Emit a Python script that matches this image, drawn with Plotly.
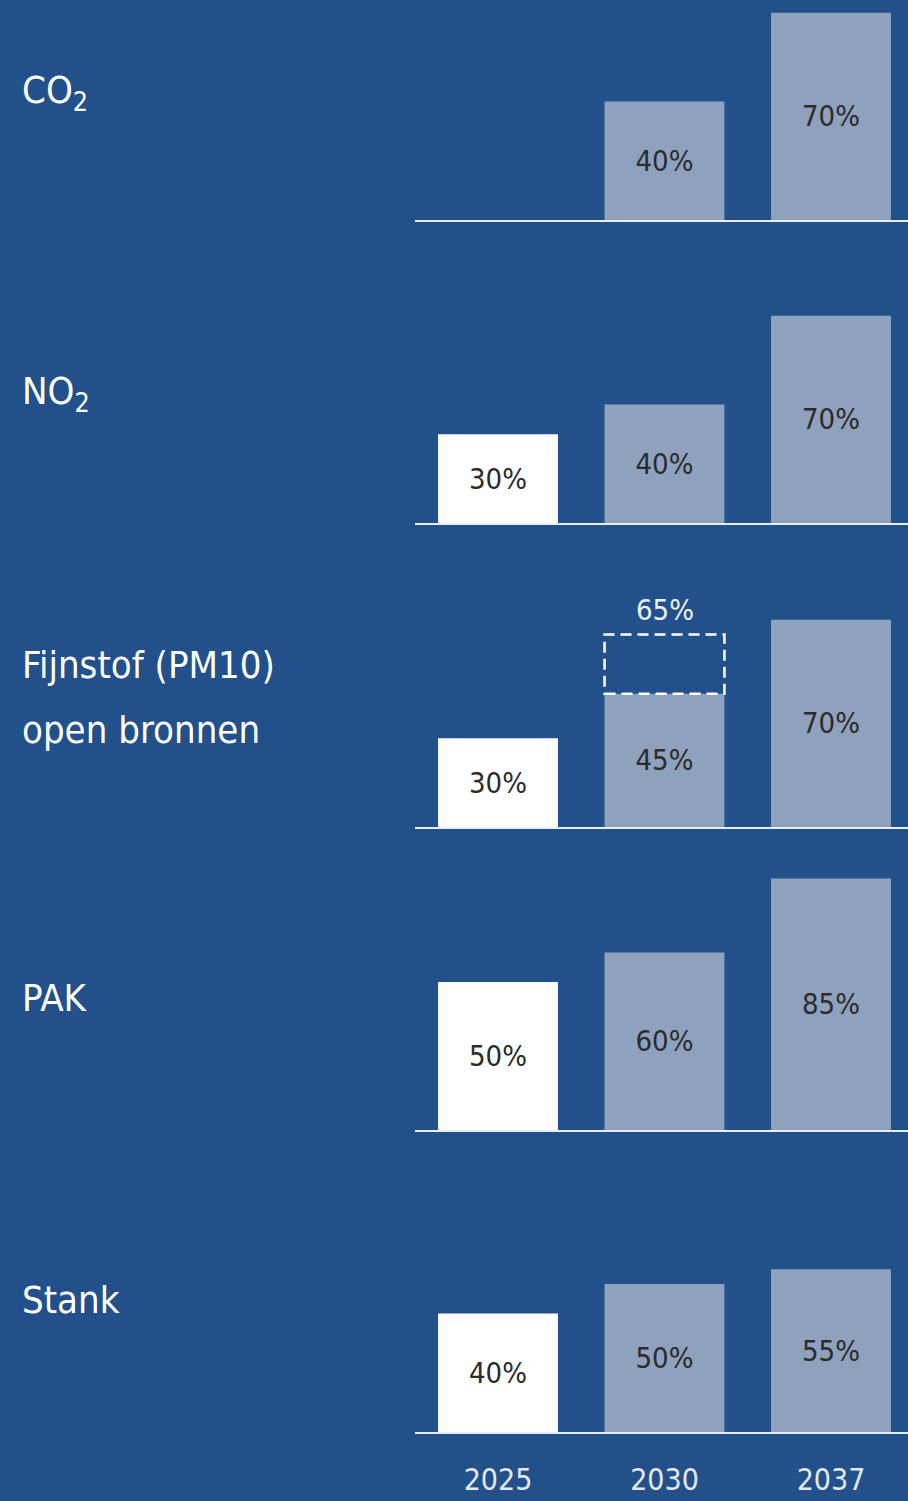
import plotly.graph_objects as go

# data
years = ["2025", "2030", "2037"]
pollutants = ["CO<sub>2</sub>", "NO<sub>2</sub>", "Fijnstof (PM10)<br>open bronnen", "PAK", "Stank"]
values_2025 = [None, 30, 30, 50, 40]
values_2030 = [40, 40, 45, 60, 50]
values_2037 = [70, 70, 70, 85, 55]
target_2030_pm10 = 65  # dashed target for Fijnstof in 2030

W, H = 908, 1501
BG = "#21508a"
FONT = "DejaVu Sans Condensed, Liberation Sans Narrow, Roboto"
baselines = [220, 523, 827, 1130, 1432]  # px
px_per_pct = 2.96
label_centers = [92, 393, 698, 998, 1300]


def py(px):
    return 1 - px / H


fig = go.Figure()
layout = {}
for i, base in enumerate(baselines):
    n = "" if i == 0 else str(i + 1)
    top = max(base - 300, 0)
    vals = [values_2025[i], values_2030[i], values_2037[i]]
    fig.add_trace(go.Bar(
        x=years,
        y=vals,
        xaxis="x" + n,
        yaxis="y" + n,
        width=0.72,
        marker=dict(color=["#ffffff", "#8ea2be", "#8ea2be"], line=dict(width=0)),
        text=[f"{v}%" if v is not None else "" for v in vals],
        textposition="inside",
        insidetextanchor="middle",
        textangle=0,
        constraintext="none",
        textfont=dict(family=FONT, size=29, color="#2b2b2b"),
        showlegend=False,
        hoverinfo="skip",
    ))
    layout["xaxis" + n] = dict(
        domain=[415 / W, 1], anchor="y" + n,
        type="category", categoryorder="array", categoryarray=years,
        range=[-0.4985, 2.4625],
        showline=True, linecolor="#e8edf3", linewidth=2,
        showgrid=False, zeroline=False,
        showticklabels=(i == len(baselines) - 1),
        ticks="outside" if i == len(baselines) - 1 else "",
        ticklen=20, tickcolor="rgba(0,0,0,0)",
        tickfont=dict(family=FONT, size=30, color="#e4e9f0"),
        fixedrange=True,
    )
    layout["yaxis" + n] = dict(
        domain=[py(base), py(top)], anchor="x" + n,
        range=[0, (base - top) / px_per_pct],
        visible=False, fixedrange=True,
    )

fig.update_layout(**layout)

# row labels
label_font = dict(family=FONT, size=38, color="white")
annotations = []
for i, name in enumerate(pollutants):
    if "<br>" in name:
        lines = name.split("<br>")
        for line, ypx in zip(lines, [665, 730]):
            annotations.append(dict(text=line, x=20 / W, y=py(ypx), xref="paper", yref="paper",
                                    xanchor="left", yanchor="middle", showarrow=False,
                                    font=label_font))
    else:
        annotations.append(dict(text=name, x=20 / W, y=py(label_centers[i]), xref="paper", yref="paper",
                                xanchor="left", yanchor="middle", showarrow=False,
                                font=label_font))

# dashed target box for Fijnstof 2030
idx = years.index("2030")
fig.add_shape(type="rect", xref="x3", yref="y3",
              x0=idx - 0.36, x1=idx + 0.36, y0=values_2030[2], y1=target_2030_pm10,
              line=dict(color="white", width=2.5, dash="11px,6px"), fillcolor="rgba(0,0,0,0)")
annotations.append(dict(text=f"{target_2030_pm10}%", x=idx, y=target_2030_pm10,
                        xref="x3", yref="y3", xanchor="center", yanchor="bottom", yshift=6,
                        showarrow=False,
                        font=dict(family=FONT, size=29, color="#eef2f7")))

fig.update_layout(
    annotations=annotations,
    width=W, height=H,
    margin=dict(l=0, r=0, t=0, b=0),
    paper_bgcolor=BG,
    plot_bgcolor="rgba(0,0,0,0)",
    bargap=0.28,
)

fig.write_html("out.html", config={"displayModeBar": False},
               post_script="document.body.style.margin='0';document.body.style.background='%s';" % BG)
